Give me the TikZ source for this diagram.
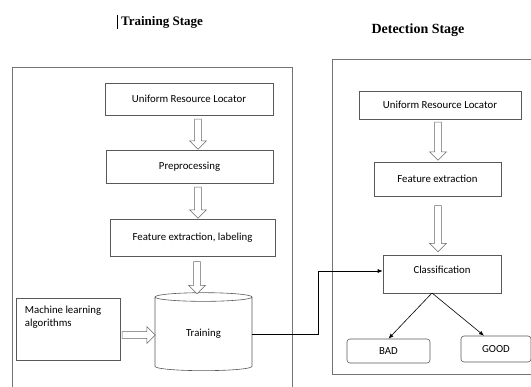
\documentclass[tikz,border=0pt]{standalone}
\usepackage{fontspec}
\setmainfont{Carlito}
\newfontfamily\titlefont{Liberation Serif}
\usetikzlibrary{shapes.geometric, shapes.arrows, arrows.meta}

\begin{document}
\begin{tikzpicture}[x=1pt, y=-1pt,
    box/.style={draw=black!65, line width=0.6pt, inner sep=0pt, font=\fontsize{10.8}{12}\selectfont},
    frame/.style={draw=black!55, line width=0.6pt},
    harrow/.style={single arrow, draw=black!60, fill=white, line width=0.5pt, inner sep=3.2pt,
      single arrow head extend=5pt, single arrow tip angle=90, minimum height=#1},
    downarrow/.style={harrow=#1, shape border rotate=270},
    stagetitle/.style={font=\titlefont\bfseries\fontsize{13}{15}\selectfont},
    link/.style={draw=black, line width=0.6pt, -{Latex[length=5pt, width=4pt]}}]
  \useasboundingbox (0,0) rectangle (531,387);
  %titles
    \node[stagetitle] (ttitle) at (162,22) {Training Stage};
    \draw[line width=0.4pt] (117,15) -- (117,29);
    \node[stagetitle, font=\titlefont\bfseries\fontsize{14}{16}\selectfont] (dtitle) at (418,30) {Detection Stage};
  %frames
    \draw[frame] (12,387) -- (12,67) -- (292,67) -- (292,387);
    \draw[frame] (531,59) -- (332,59) -- (332,374) -- (531,374);
  %training stage
    \node[box, minimum width=168pt, minimum height=32pt] (url1) at (189,99) {Uniform Resource Locator};
    \node[box, minimum width=167pt, minimum height=33pt] (pre) at (189.5,166.5) {Preprocessing};
    \node[box, minimum width=165pt, minimum height=37pt] (feat1) at (192.5,237.5) {Feature extraction, labeling};
    \node[box, cylinder, shape border rotate=90, aspect=0.25, minimum width=97pt, minimum height=78pt] (train) at (203.5,334) {Training};
    \node[box, minimum width=104pt, minimum height=62pt,
      label={[anchor=north west, align=left, inner sep=0pt, font=\fontsize{10.8}{13}\selectfont, xshift=9pt, yshift=-8pt]north west:Machine learning\\algorithms}] (ml) at (68,329) {};
    \node[downarrow=30pt] (a1) at (198,132.5) {};
    \node[downarrow=31pt] (a2) at (198,201) {};
    \node[downarrow=32pt] (a3) at (197,276) {};
    \node[harrow=33pt] (a4) at (137,335) {};
  %detection stage
    \node[box, minimum width=162pt, minimum height=28pt] (url2) at (440,105) {Uniform Resource Locator};
    \node[box, minimum width=127pt, minimum height=34pt] (feat2) at (437.5,179) {Feature extraction};
    \node[box, minimum width=118pt, minimum height=38pt, text depth=8pt] (cls) at (442,274) {Classification};
    \node[box, rounded corners=3pt, minimum width=83pt, minimum height=24pt] (bad) at (388.5,351) {BAD};
    \node[box, rounded corners=3pt, minimum width=70pt, minimum height=26pt] (good) at (496,349) {GOOD};
    \node[downarrow=38pt] (a5) at (438,139.5) {};
    \node[downarrow=46pt] (a6) at (438,227) {};
    \coordinate (split) at (432,293);
    \draw[link] (train.east) -- ++(66,0) |- ([yshift=3pt]cls.west);
    \draw[link] (split) -- (bad.north);
    \draw[link] (split) -- ([xshift=-12pt]good.north);
\end{tikzpicture}
\end{document}
